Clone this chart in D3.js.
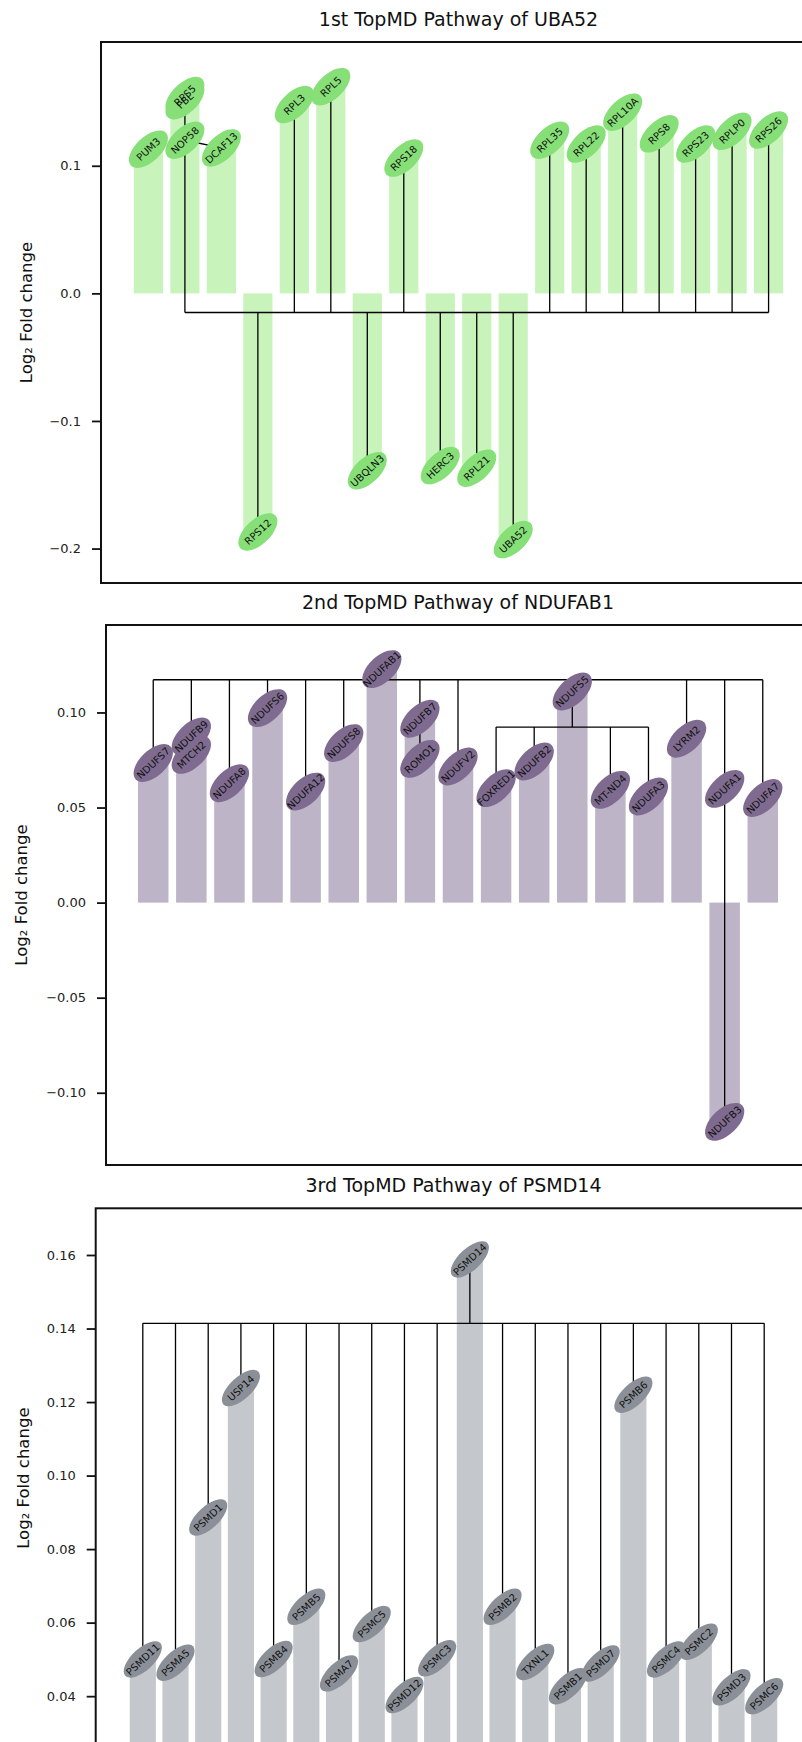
<!DOCTYPE html>
<html>
<head>
<meta charset="utf-8">
<script src="https://cdn.jsdelivr.net/npm/d3@7"></script>
<style>
  body { margin: 0; background: #fff; }
  svg { display: block; font-family: "DejaVu Sans", sans-serif; }
</style>
</head>
<body>
<div id="chart"></div>
<script>
// ---- panel 1: UBA52
const p1Title = "1st TopMD Pathway of UBA52";
const p1Genes  = ["PUM3","FBL","RPS5","NOP58","DCAF13","RPS12","RPL3","RPL5","UBQLN3","RPS18","HERC3","RPL21","UBA52","RPL35","RPL22","RPL10A","RPS8","RPS23","RPLP0","RPS26"];
const p1Cols   = [0,1,1,1,2,3,4,5,6,7,8,9,10,11,12,13,14,15,16,17];
const p1Values = [0.113,0.151,0.155,0.120,0.114,-0.187,0.148,0.162,-0.139,0.106,-0.135,-0.137,-0.193,0.120,0.117,0.142,0.125,0.117,0.127,0.128];
const p1Bars   = [0.113,0.153,0.114,-0.187,0.148,0.162,-0.139,0.106,-0.135,-0.137,-0.193,0.120,0.117,0.142,0.125,0.117,0.127,0.128];
const p1HubValue = -0.015;
const p1HubGenes = ["RPS5","RPS12","RPL3","RPL5","UBQLN3","RPS18","HERC3","RPL21","UBA52","RPL35","RPL22","RPL10A","RPS8","RPS23","RPLP0","RPS26"];
const p1Links = [["NOP58","DCAF13"]];
const p1Ticks = [-0.2,-0.1,0,0.1];
const p1TickLabels = ["\u22120.2","\u22120.1","0.0","0.1"];

// ---- panel 2: NDUFAB1
const p2Title = "2nd TopMD Pathway of NDUFAB1";
const p2Genes  = ["NDUFS7","NDUFB9","MTCH2","NDUFA8","NDUFS6","NDUFA12","NDUFS8","NDUFAB1","NDUFB7","ROMO1","NDUFV2","FOXRED1","NDUFB2","NDUFS5","MT-ND4","NDUFA3","LYRM2","NDUFA1","NDUFB3","NDUFA7"];
const p2Cols   = [0,1,1,2,3,4,5,6,7,7,8,9,10,11,12,13,14,15,15,16];
const p2Values = [0.0734,0.0874,0.0777,0.0628,0.1023,0.0584,0.0839,0.1228,0.0967,0.0756,0.0716,0.0602,0.0742,0.111,0.0593,0.0558,0.0862,0.0598,-0.1153,0.055];
const p2Bars   = [0.0734,0.0874,0.0628,0.1023,0.0584,0.0839,0.1228,0.0967,0.0716,0.0602,0.0742,0.111,0.0593,0.0558,0.0862,-0.1153,0.055];
const p2HubValue = 0.1172;
const p2HubGenes = ["NDUFS7","NDUFB9","NDUFA8","NDUFS6","NDUFA12","NDUFS8","NDUFAB1","NDUFB7","NDUFV2","NDUFS5","LYRM2","NDUFA1","NDUFA7"];
const p2SubHubValue = 0.0923;
const p2SubHubGenes = ["FOXRED1","NDUFB2","NDUFS5","MT-ND4","NDUFA3"];
const p2Links = [["NDUFB9","MTCH2"],["NDUFB7","ROMO1"],["NDUFA1","NDUFB3"]];
const p2Ticks = [-0.10,-0.05,0,0.05,0.10];
const p2TickLabels = ["\u22120.10","\u22120.05","0.00","0.05","0.10"];

// ---- panel 3: PSMD14
const p3Title = "3rd TopMD Pathway of PSMD14";
const p3Genes  = ["PSMD11","PSMA5","PSMD1","USP14","PSMB4","PSMB5","PSMA7","PSMC5","PSMD12","PSMC3","PSMD14","PSMB2","TXNL1","PSMB1","PSMD7","PSMB6","PSMC4","PSMC2","PSMD3","PSMC6"];
const p3Cols   = [0,1,2,3,4,5,6,7,8,9,10,11,12,13,14,15,16,17,18,19];
const p3Values = [0.050,0.0491,0.0886,0.1238,0.0501,0.0643,0.0462,0.0596,0.0403,0.0503,0.1588,0.0643,0.0493,0.0427,0.0489,0.122,0.050,0.0548,0.0424,0.040];
const p3Bars   = p3Values;
const p3HubValue = 0.1414;
const p3HubGenes = p3Genes;
const p3Links = [];
const p3Ticks = [0.04,0.06,0.08,0.10,0.12,0.14,0.16];
const p3TickLabels = ["0.04","0.06","0.08","0.10","0.12","0.14","0.16"];

const W = 802, H = 1742;

const panels = [
  { id: 1, title: p1Title, genes: p1Genes, cols: p1Cols, values: p1Values, bars: p1Bars,
    hubs: [{ value: p1HubValue, genes: p1HubGenes }], links: p1Links,
    ticks: p1Ticks, tickLabels: p1TickLabels,
    left: 101, right: 816, top: 42, bottom: 583, xDomain: [-1.3, 18.3], yDomain: [-0.227, 0.197],
    labelX: 32, barColor: "#c8f4bc", nodeColor: "#86df77", rx: 24, ry: 12.5 },
  { id: 2, title: p2Title, genes: p2Genes, cols: p2Cols, values: p2Values, bars: p2Bars,
    hubs: [{ value: p2HubValue, genes: p2HubGenes }, { value: p2SubHubValue, genes: p2SubHubGenes }], links: p2Links,
    ticks: p2Ticks, tickLabels: p2TickLabels,
    left: 106, right: 810, top: 625, bottom: 1165, xDomain: [-1.24, 17.24], yDomain: [-0.138, 0.146],
    labelX: 27, barColor: "#bdb4c7", nodeColor: "#7f6b8f", rx: 24, ry: 13 },
  { id: 3, title: p3Title, genes: p3Genes, cols: p3Cols, values: p3Values, bars: p3Bars,
    hubs: [{ value: p3HubValue, genes: p3HubGenes }], links: p3Links,
    ticks: p3Ticks, tickLabels: p3TickLabels,
    left: 95.7, right: 811.3, top: 1208.3, bottom: 1748, xDomain: [-1.44, 20.44], yDomain: [0.0259, 0.1727],
    labelX: 29, barColor: "#c4c7cb", nodeColor: "#8b9098", rx: 24, ry: 11 }
];

const svg = d3.select("#chart").append("svg")
    .attr("width", W)
    .attr("height", H);

panels.forEach(drawPanel);

function drawPanel(p) {
    const g = svg.append("g");
    const x = d3.scaleLinear().domain(p.xDomain).range([p.left, p.right]);
    const y = d3.scaleLinear().domain(p.yDomain).range([p.bottom, p.top]);

    const clipId = "clip" + p.id;
    svg.append("clipPath").attr("id", clipId).append("rect")
        .attr("x", p.left).attr("y", p.top)
        .attr("width", p.right - p.left).attr("height", p.bottom - p.top);

    const plot = g.append("g").attr("clip-path", `url(#${clipId})`);

    // bars, one per column
    const barW = x(0.8) - x(0);
    plot.append("g").selectAll("rect")
        .data(p.bars)
        .enter().append("rect")
        .attr("x", (v, i) => x(i) - barW / 2)
        .attr("y", v => y(Math.max(0, v)))
        .attr("width", barW)
        .attr("height", v => Math.abs(y(v) - y(0)))
        .attr("fill", p.barColor);

    const pos = {};
    p.genes.forEach((name, i) => { pos[name] = { x: x(p.cols[i]), y: y(p.values[i]) }; });

    // tree lines
    const lines = plot.append("g").attr("stroke", "#000").attr("stroke-width", 1.3);
    p.hubs.forEach(h => {
        const hy = y(h.value);
        const xs = h.genes.map(n => pos[n].x);
        lines.append("line")
            .attr("x1", d3.min(xs)).attr("x2", d3.max(xs))
            .attr("y1", hy).attr("y2", hy);
        lines.selectAll(null)
            .data(h.genes)
            .enter().append("line")
            .attr("x1", n => pos[n].x).attr("x2", n => pos[n].x)
            .attr("y1", hy).attr("y2", n => pos[n].y);
    });
    lines.selectAll(null)
        .data(p.links)
        .enter().append("line")
        .attr("x1", l => pos[l[0]].x).attr("y1", l => pos[l[0]].y)
        .attr("x2", l => pos[l[1]].x).attr("y2", l => pos[l[1]].y);

    // node ellipses, then labels on top
    const angle = -43;
    plot.append("g").selectAll("ellipse")
        .data(p.genes)
        .enter().append("ellipse")
        .attr("transform", n => `translate(${pos[n].x},${pos[n].y}) rotate(${angle})`)
        .attr("rx", p.rx)
        .attr("ry", p.ry)
        .attr("fill", p.nodeColor);

    plot.append("g").selectAll("text")
        .data(p.genes)
        .enter().append("text")
        .attr("transform", n => `translate(${pos[n].x},${pos[n].y}) rotate(${angle})`)
        .attr("text-anchor", "middle")
        .attr("dy", "0.36em")
        .attr("font-size", 10)
        .attr("fill", "#111")
        .text(n => n);

    // frame
    g.append("rect")
        .attr("x", p.left).attr("y", p.top)
        .attr("width", p.right - p.left).attr("height", p.bottom - p.top)
        .attr("fill", "none")
        .attr("stroke", "#111")
        .attr("stroke-width", 2);

    // y axis
    const axis = d3.axisLeft(y)
        .tickValues(p.ticks)
        .tickFormat((v, i) => p.tickLabels[i])
        .tickSize(9)
        .tickPadding(11);
    g.append("g")
        .attr("transform", `translate(${p.left},0)`)
        .call(axis)
        .attr("font-family", "DejaVu Sans")
        .attr("font-size", 13)
        .call(a => a.select(".domain").remove())
        .call(a => a.selectAll(".tick line").attr("stroke", "#111").attr("stroke-width", 1.8))
        .call(a => a.selectAll(".tick text").attr("fill", "#222"));

    // title
    g.append("text")
        .attr("x", (p.left + p.right) / 2)
        .attr("y", p.top - 16)
        .attr("text-anchor", "middle")
        .attr("font-size", 19)
        .attr("fill", "#111")
        .text(p.title);

    // y label
    g.append("text")
        .attr("transform", `translate(${p.labelX},${(p.top + p.bottom) / 2}) rotate(-90)`)
        .attr("text-anchor", "middle")
        .attr("font-size", 16.5)
        .attr("fill", "#111")
        .text("Log\u2082 Fold change");
}
</script>
</body>
</html>
